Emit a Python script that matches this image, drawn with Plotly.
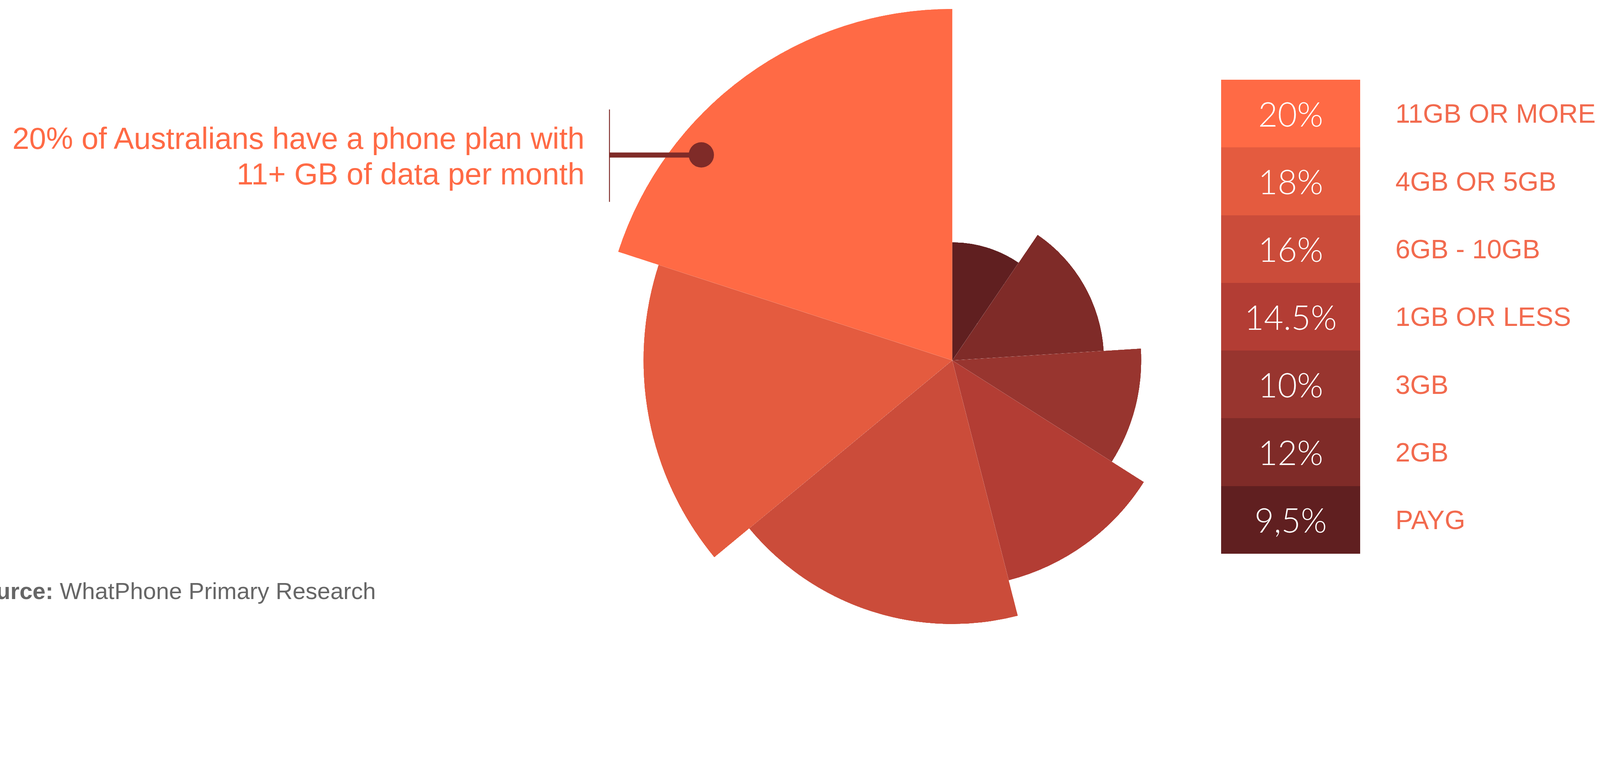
import math
import plotly.graph_objects as go
import numpy as np

W, H = 5059, 1973

# ---------------- data ----------------
categories = ["11GB OR MORE", "4GB OR 5GB", "6GB - 10GB", "1GB OR LESS", "3GB", "2GB", "PAYG"]
pct_values = [20, 18, 16, 14.5, 10, 12, 9.5]
pct_labels = ["20%", "18%", "16%", "14.5%", "10%", "12%", "9,5%"]
# angular share (in %) of each wedge as drawn, counter-clockwise from 12 o'clock
wedge_share = [20, 16, 18, 12, 10, 14.5, 9.5]
# relative radial length of each wedge (largest = 100)
wedge_length = [100, 87.9, 75.6, 64.6, 53.8, 43.2, 33.6]
colors = ["#FF6A45", "#E45B3F", "#CB4C3A", "#B33D34", "#98352F", "#7F2B28", "#601F20"]
callout_text = ["20% of Australians have a phone plan with", "11+ GB of data per month"]
callout_point_r = [92.3]
callout_point_theta = [50.7]
source_bold = "Source:"
source_text = "WhatPhone Primary Research"

# ---------------- helpers ----------------
def px(x):
    return x / W

def py(y):
    return 1 - y / H

def sector_bbox(s0, s1):
    """bounding box (unit radius) of a sector incl. its origin, as plotly computes it"""
    xs, ys = [0.0], [0.0]
    for a in (s0, s1):
        xs.append(math.cos(math.radians(a)))
        ys.append(math.sin(math.radians(a)))
    k = math.ceil(s0 / 90.0)
    while k * 90 <= s1:
        a = k * 90
        xs.append(round(math.cos(math.radians(a))))
        ys.append(round(math.sin(math.radians(a))))
        k += 1
    return min(xs), min(ys), max(xs), max(ys)

widths = np.array(wedge_share) * 3.6
bounds = np.concatenate([[0], np.cumsum(widths)])
theta_c = bounds[:-1] + widths / 2

# pie centre and full radius (pixels, from top-left)
cx, cy, R100 = 3011, 1139, 1111

fig = go.Figure()
layout_polars = {}
for i in range(len(wedge_share)):
    name = "polar" if i == 0 else f"polar{i + 1}"
    s0, s1 = 90 + bounds[i], 90 + bounds[i + 1]
    x0, y0, x1, y1 = sector_bbox(s0, s1)
    Rp = R100 * wedge_length[i] / 100
    lim = []
    if y0 < 0:
        lim.append((H - cy) / (-y0))
    if y1 > 0:
        lim.append(cy / y1)
    if x0 < 0:
        lim.append(cx / (-x0))
    if x1 > 0:
        lim.append((W - cx) / x1)
    Rp = min([Rp] + [l - 0.5 for l in lim])
    dom_x = [px(cx + Rp * x0), px(cx + Rp * x1)]
    dom_y = sorted([py(cy - Rp * y0), py(cy - Rp * y1)])
    dom_x = [max(0, min(1, v)) for v in dom_x]
    dom_y = [max(0, min(1, v)) for v in dom_y]
    layout_polars[name] = dict(
        domain=dict(x=dom_x, y=dom_y),
        sector=[s0, s1],
        bgcolor="rgba(0,0,0,0)",
        bargap=0,
        radialaxis=dict(visible=False, range=[0, wedge_length[i]]),
        angularaxis=dict(visible=False, direction="counterclockwise", rotation=90),
    )
    fig.add_trace(go.Barpolar(
        r=[wedge_length[i]], theta=[theta_c[i]], width=[widths[i]],
        marker=dict(color=colors[i], line=dict(width=0)),
        subplot=name, hoverinfo="skip", showlegend=False,
    ))

# callout dot on the largest wedge
fig.add_trace(go.Scatterpolar(
    r=callout_point_r, theta=callout_point_theta, mode="markers",
    marker=dict(size=80, color="#7F2B28", line=dict(width=0)),
    subplot="polar", hoverinfo="skip", showlegend=False,
))

# legend key as a stacked block (horizontal bars)
fig.add_trace(go.Bar(
    x=[1] * len(categories), y=categories, orientation="h",
    width=1, marker=dict(color=colors, line=dict(width=0)),
    text=pct_labels, textposition="inside", insidetextanchor="middle",
    textangle=0, constraintext="none",
    textfont=dict(family="Lato", size=106, color="white", weight=300),
    xaxis="x", yaxis="y", hoverinfo="skip", showlegend=False,
))

lx0, lx1, ly0, ly1 = 3861, 4301, 252, 1750

fig.update_layout(
    width=W, height=H,
    margin=dict(l=0, r=0, t=0, b=0),
    paper_bgcolor="white", plot_bgcolor="rgba(0,0,0,0)",
    xaxis=dict(domain=[px(lx0), px(lx1)], range=[0, 1], visible=False, fixedrange=True),
    yaxis=dict(
        domain=[py(ly1), py(ly0)], autorange="reversed", side="right",
        showgrid=False, zeroline=False, showline=False, ticks="",
        ticklabelstandoff=110,
        tickfont=dict(family="Liberation Sans, Arial, sans-serif", size=84, color="#F26A4E"),
    ),
    bargap=0,
    showlegend=False,
    **layout_polars,
)

# callout lines
fig.add_shape(type="line", xref="paper", yref="paper",
              x0=px(1927), x1=px(1927), y0=py(346), y1=py(638),
              line=dict(color="#7F2B28", width=3))
fig.add_shape(type="line", xref="paper", yref="paper",
              x0=px(1927), x1=px(2217), y0=py(490), y1=py(490),
              line=dict(color="#7F2B28", width=16))

font_main = "Liberation Sans, Arial, sans-serif"
for txt, base in zip(callout_text, [469, 583]):
    fig.add_annotation(
        text=txt, xref="paper", yref="paper",
        x=px(1850), y=py(base - 33), xanchor="right", yanchor="middle",
        showarrow=False, font=dict(family=font_main, size=96, color="#FF6A45"),
    )

fig.add_annotation(
    text=f"<b>{source_bold}</b> {source_text}", xref="paper", yref="paper",
    x=px(1190), y=py(1894 - 26), xanchor="right", yanchor="middle",
    showarrow=False, font=dict(family=font_main, size=74, color="#666666"),
)

# scale the fixed-size figure to the browser's actual width
post = """
(function(){
  var gd = document.getElementById('{plot_id}');
  function fit(){
    var s = Math.min(window.innerWidth / %d, window.innerHeight / %d);
    document.documentElement.style.margin = '0';
    document.documentElement.style.overflow = 'hidden';
    document.body.style.margin = '0';
    document.body.style.overflow = 'hidden';
    gd.style.transformOrigin = '0 0';
    gd.style.transform = 'scale(' + s + ')';
    var p = gd.parentElement;
    p.style.width = (%d * s) + 'px';
    p.style.height = (%d * s) + 'px';
    p.style.overflow = 'hidden';
  }
  fit();
  window.addEventListener('resize', fit);
})();
""" % (W, H, W, H)

fig.write_html("out.html", post_script=post, config={"displayModeBar": False})
